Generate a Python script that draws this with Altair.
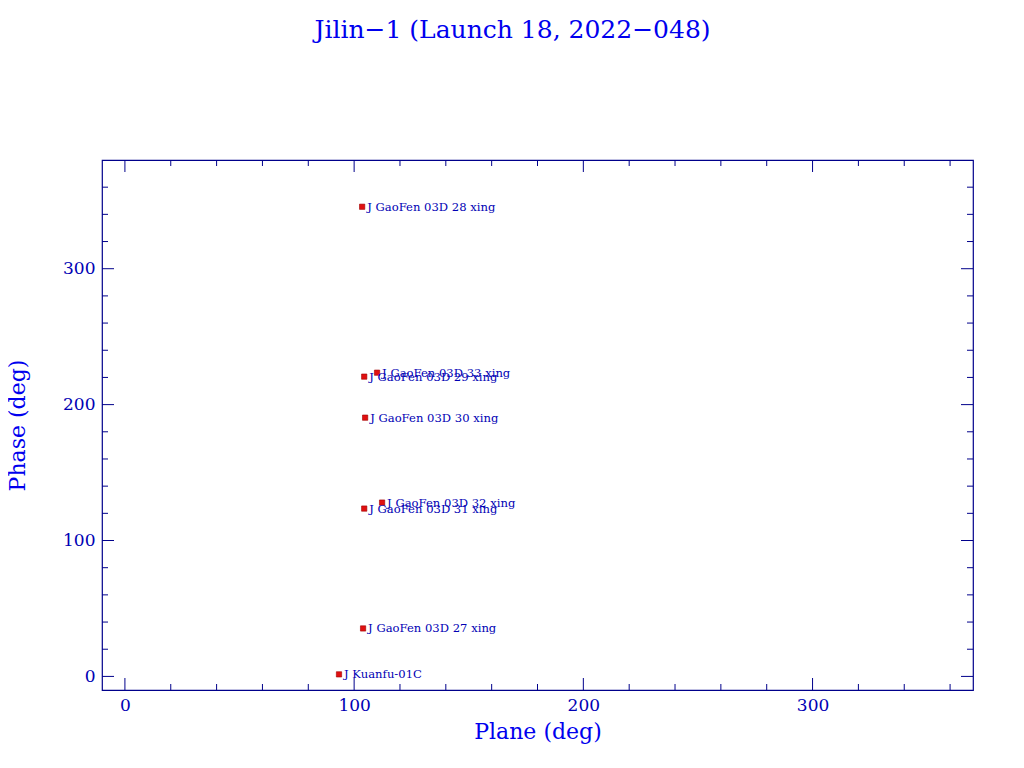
import altair as alt
import pandas as pd

# Satellite data
names = [
    "J GaoFen 03D 28 xing",
    "J GaoFen 03D 33 xing",
    "J GaoFen 03D 29 xing",
    "J GaoFen 03D 30 xing",
    "J GaoFen 03D 32 xing",
    "J GaoFen 03D 31 xing",
    "J GaoFen 03D 27 xing",
    "J Kuanfu-01C",
]
plane = [103.5, 110.0, 104.4, 104.8, 112.2, 104.4, 103.9, 93.4]
phase = [345.6, 223.5, 220.6, 190.4, 127.9, 123.5, 35.3, 1.5]

x_major = [0, 100, 200, 300]
x_minor = [20, 40, 60, 80, 120, 140, 160, 180, 220, 240, 260, 280, 320, 340, 360]
y_major = [0, 100, 200, 300]
y_minor = [20, 40, 60, 80, 120, 140, 160, 180, 220, 240, 260, 280, 320, 340, 360]

W, H = 871, 530
FRAME = "#00008b"
LABEL = "#0000b4"
TITLE = "#0000ee"
FONT = "DejaVu Serif"

xs = alt.Scale(domain=[-10, 370], nice=False, zero=False)
ys = alt.Scale(domain=[-10, 380], nice=False, zero=False)

df = pd.DataFrame({"plane": plane, "phase": phase, "name": names})

base = alt.Chart(df)

points = base.mark_square(size=28, color="#e01010", opacity=1, stroke="#a00000", strokeWidth=0.6).encode(
    x=alt.X("plane:Q", scale=xs,
            axis=alt.Axis(title="Plane (deg)", values=x_major, format="d")),
    y=alt.Y("phase:Q", scale=ys,
            axis=alt.Axis(title="Phase (deg)", values=y_major, format="d")),
)

labels = base.mark_text(align="left", baseline="middle", dx=5, dy=1,
                        font=FONT, fontSize=11.6, color=LABEL).encode(
    x=alt.X("plane:Q", scale=xs),
    y=alt.Y("phase:Q", scale=ys),
    text="name:N",
)

def xticks(vals, length):
    d = pd.DataFrame({"v": vals})
    bot = alt.Chart(d).mark_rule(color=FRAME, strokeWidth=1).encode(
        x=alt.X("v:Q", scale=xs), y=alt.value(H), y2=alt.value(H - length))
    top = alt.Chart(d).mark_rule(color=FRAME, strokeWidth=1).encode(
        x=alt.X("v:Q", scale=xs), y=alt.value(0), y2=alt.value(length))
    return [bot, top]

def yticks(vals, length):
    d = pd.DataFrame({"v": vals})
    left = alt.Chart(d).mark_rule(color=FRAME, strokeWidth=1).encode(
        y=alt.Y("v:Q", scale=ys), x=alt.value(0), x2=alt.value(length))
    right = alt.Chart(d).mark_rule(color=FRAME, strokeWidth=1).encode(
        y=alt.Y("v:Q", scale=ys), x=alt.value(W), x2=alt.value(W - length))
    return [left, right]

layers = (xticks(x_major, 12) + xticks(x_minor, 6) +
          yticks(y_major, 12) + yticks(y_minor, 6) + [points, labels])

chart = alt.layer(*layers).properties(
    width=W, height=H,
    title=alt.TitleParams("Jilin\u22121 (Launch 18, 2022\u2212048)", font=FONT,
                          fontSize=25, fontWeight="normal", color=TITLE,
                          anchor="middle", offset=117, dx=-25),
    autosize=alt.AutoSizeParams(type="none"),
    padding={"left": 94, "top": 152, "right": 40, "bottom": 70},
).configure_view(
    stroke=FRAME, strokeWidth=1.2
).configure_axis(
    domain=False, ticks=False, grid=False,
    labelFont=FONT, labelFontSize=17, labelColor=LABEL,
    titleFont=FONT, titleFontSize=22, titleColor=TITLE, titleFontWeight="normal",
).configure_axisX(
    labelPadding=7, titlePadding=8,
).configure_axisY(
    labelPadding=7, titlePadding=33,
)

chart.save("out.html", embed_options={"renderer": "svg", "actions": False})
